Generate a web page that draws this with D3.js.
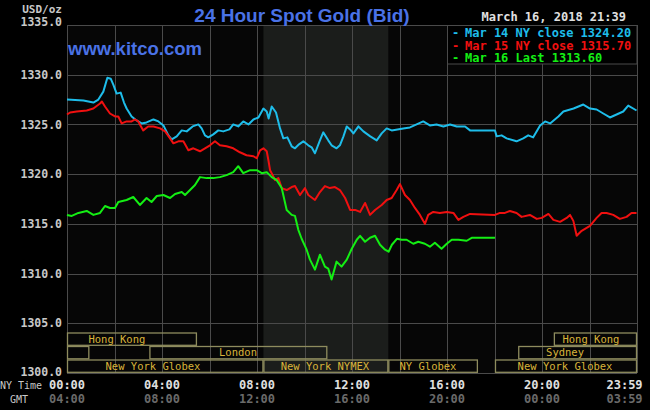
<!DOCTYPE html>
<html><head><meta charset="utf-8">
<script src="https://cdn.jsdelivr.net/npm/d3@7"></script>
<style>html,body{margin:0;padding:0;background:#000;overflow:hidden}svg{display:block}</style>
</head><body><svg id="c" width="650" height="410"></svg>
<script>
// ---------- DATA ----------
const titleText = "24 Hour Spot Gold (Bid)";
const siteText = "www.kitco.com";
const dateText = "March 16, 2018 21:39";
const unitText = "USD/oz";

const yTicks = [1300, 1305, 1310, 1315, 1320, 1325, 1330, 1335];
const xTickHours = [0, 4, 8, 12, 16, 20, 23.983];
const nyTimeLabels = ["00:00", "04:00", "08:00", "12:00", "16:00", "20:00", "23:59"];
const gmtLabels = ["04:00", "08:00", "12:00", "16:00", "20:00", "00:00", "03:59"];
const gridHours = [0, 2, 4, 6, 8, 10, 12, 14, 16, 18, 20, 22, 24];

const legendLabels = ["Mar 14 NY close 1324.20", "Mar 15 NY close 1315.70", "Mar 16 Last 1313.60"];

const mar14Times = [0,0.69,1.11,1.32,1.53,1.70,1.84,1.95,2.09,2.26,2.40,2.51,2.72,2.93,3.14,3.35,3.64,3.85,4.06,4.27,4.41,4.62,4.83,5.04,5.29,5.53,5.67,5.81,5.95,6.16,6.37,6.58,6.84,7.00,7.21,7.42,7.64,7.85,8.06,8.27,8.41,8.49,8.62,8.80,8.97,9.11,9.28,9.46,9.60,9.77,9.95,10.16,10.30,10.44,10.65,10.79,11.00,11.14,11.35,11.49,11.64,11.78,11.92,12.06,12.27,12.48,12.77,13.04,13.25,13.46,13.67,14.16,14.44,14.72,15.00,15.28,15.56,15.85,16.13,16.41,16.76,16.97,18.02,18.09,18.30,18.51,18.93,19.21,19.42,19.63,19.92,20.13,20.34,20.69,20.90,21.33,21.74,22.02,22.30,22.58,22.86,23.14,23.42,23.63,23.91,23.98];
const mar14Values = [1327.5,1327.4,1327.2,1327.5,1328.3,1329.7,1329.6,1329.0,1328.1,1328.2,1327.2,1326.6,1325.8,1325.4,1325.1,1325.2,1325.5,1325.3,1324.9,1323.9,1323.5,1323.8,1324.4,1324.3,1324.8,1325.0,1324.6,1323.9,1323.7,1324.0,1324.4,1324.3,1324.5,1325.0,1324.8,1325.3,1325.0,1325.5,1325.7,1326.6,1326.3,1325.6,1326.8,1326.2,1324.6,1323.6,1323.7,1322.8,1322.6,1323.0,1323.3,1322.9,1322.7,1322.1,1323.4,1324.2,1323.4,1322.9,1322.6,1322.9,1323.8,1324.8,1324.5,1324.1,1324.8,1324.3,1323.8,1323.4,1324.1,1324.6,1324.4,1324.6,1324.7,1325.0,1325.3,1324.9,1325.0,1324.8,1325.0,1324.8,1324.8,1324.4,1324.4,1323.8,1323.9,1323.6,1323.3,1323.6,1323.9,1323.7,1324.9,1325.3,1325.1,1325.8,1326.3,1326.6,1327.0,1326.6,1326.5,1326.1,1325.7,1326.0,1326.3,1326.9,1326.5,1326.4];

const mar15Times = [0,0.13,0.41,0.83,1.11,1.39,1.47,1.60,1.81,2.02,2.16,2.30,2.51,2.72,2.86,3.00,3.21,3.42,3.64,3.92,4.13,4.34,4.48,4.69,4.90,5.11,5.32,5.60,5.81,6.02,6.23,6.44,6.72,7.00,7.28,7.56,7.85,7.99,8.13,8.27,8.41,8.48,8.55,8.66,8.76,8.90,9.04,9.25,9.46,9.60,9.81,10.02,10.16,10.44,10.65,10.86,11.07,11.28,11.49,11.71,11.92,12.13,12.34,12.55,12.76,12.97,13.25,13.46,13.67,13.88,14.02,14.23,14.44,14.65,14.86,15.07,15.21,15.42,15.70,15.99,16.27,16.48,16.69,16.97,18.02,18.23,18.44,18.65,18.93,19.14,19.49,19.78,19.99,20.27,20.48,20.76,21.04,21.18,21.32,21.46,21.67,22.02,22.30,22.51,22.72,23.00,23.28,23.56,23.77,23.98];
const mar15Values = [1326.0,1326.2,1326.3,1326.4,1326.6,1327.1,1327.3,1326.8,1326.1,1325.8,1325.8,1325.1,1325.3,1325.3,1325.5,1325.3,1324.4,1324.8,1324.8,1324.6,1324.3,1323.6,1323.1,1323.3,1323.3,1322.4,1322.6,1322.3,1322.6,1322.9,1323.3,1322.9,1322.8,1322.6,1322.2,1321.9,1321.8,1321.6,1322.4,1322.6,1322.3,1321.4,1320.4,1319.9,1319.4,1319.6,1318.6,1318.4,1318.7,1318.8,1317.9,1318.6,1317.9,1317.4,1318.2,1318.8,1318.6,1318.7,1318.4,1317.6,1316.4,1316.4,1316.2,1317.1,1315.9,1316.4,1316.9,1317.4,1317.6,1318.4,1319.0,1317.9,1317.4,1316.6,1315.9,1315.0,1315.9,1316.2,1316.1,1316.2,1316.1,1315.4,1315.7,1316.0,1315.9,1316.1,1316.1,1316.3,1316.1,1315.7,1315.9,1315.5,1315.6,1316.0,1315.4,1315.2,1315.6,1315.9,1315.3,1313.8,1314.3,1314.8,1315.6,1316.1,1316.1,1315.9,1315.5,1315.7,1316.1,1316.1];

const mar16Times = [0,0.20,0.48,0.83,1.11,1.39,1.60,1.81,2.02,2.16,2.51,2.79,3.07,3.35,3.56,3.78,4.06,4.34,4.55,4.83,4.97,5.18,5.39,5.60,5.88,6.16,6.44,6.72,7.00,7.21,7.42,7.71,7.99,8.20,8.41,8.62,8.83,9.04,9.25,9.46,9.60,9.74,9.88,10.09,10.23,10.44,10.65,10.86,11.00,11.14,11.35,11.56,11.78,11.99,12.20,12.34,12.55,12.76,12.97,13.18,13.39,13.54,13.68,13.89,14.09,14.30,14.58,14.79,15.07,15.28,15.49,15.77,15.99,16.20,16.48,16.83,17.04,18.02];
const mar16Values = [1315.9,1315.8,1316.1,1316.3,1315.9,1316.1,1316.8,1316.6,1316.6,1317.2,1317.4,1317.7,1316.9,1317.6,1317.2,1317.8,1317.9,1317.6,1318.0,1318.2,1317.9,1318.4,1318.9,1319.7,1319.6,1319.6,1319.7,1319.9,1320.2,1320.8,1320.1,1320.4,1320.4,1320.1,1320.2,1319.7,1319.4,1318.6,1316.4,1315.9,1315.8,1314.4,1313.5,1312.4,1311.4,1310.4,1311.9,1310.7,1310.5,1309.4,1311.2,1310.7,1311.4,1312.5,1313.4,1313.8,1313.2,1313.6,1313.8,1312.9,1312.4,1312.2,1312.9,1313.5,1313.4,1313.4,1313.0,1313.2,1313.0,1312.7,1313.1,1312.5,1313.0,1313.4,1313.4,1313.3,1313.6,1313.6];

// market sessions: row, start hour, end hour, label, label hour
const sessionRows = [0, 0, 1, 1, 1, 2, 2, 2, 2];
const sessionStarts = [0, 20.5, 0, 3.47, 19, 0, 8.27, 13.53, 18.02];
const sessionEnds = [5.47, 24, 0.94, 10.96, 24, 8.27, 13.53, 17.3, 24];
const sessionLabels = ["Hong Kong", "Hong Kong", "", "London", "Sydney", "New York Globex", "New York NYMEX", "NY Globex", "New York Globex"];
const sessionLabelAt = [2.1, 22.06, 0, 7.2, 20.97, 3.62, 10.86, 15.2, 20.97];
const shadeStart = 8.27, shadeEnd = 13.53;

// ---------- DRAW ----------
const svg = d3.select("#c");
const L = 67, R = 637, T = 25, B = 373;
const x = d3.scaleLinear().domain([0, 24]).range([L, R]);
const y = d3.scaleLinear().domain([1300, 1335]).range([B, T]);
const mono = "'DejaVu Sans Mono', monospace";

svg.append("rect").attr("width", 650).attr("height", 410).attr("fill", "#000");
svg.append("rect").attr("x", L).attr("y", T).attr("width", R - L).attr("height", B - T).attr("fill", "#060606");
svg.append("rect").attr("x", x(shadeStart)).attr("y", T).attr("width", x(shadeEnd) - x(shadeStart)).attr("height", B - T).attr("fill", "#1b1d1b");

const grid = svg.append("g").attr("stroke", "#4a4a4a").attr("stroke-width", 1).attr("shape-rendering", "crispEdges");
grid.selectAll("line.v").data(gridHours).join("line").attr("class", "v")
  .attr("x1", d => Math.round(x(d)) + 0.5).attr("x2", d => Math.round(x(d)) + 0.5).attr("y1", T).attr("y2", B);
grid.selectAll("line.h").data(yTicks).join("line").attr("class", "h")
  .attr("x1", L).attr("x2", R).attr("y1", d => Math.round(y(d)) + 0.5).attr("y2", d => Math.round(y(d)) + 0.5);

// sessions
const rowTop = [333, 346.5, 360], rowH = 12.3;
const sess = svg.append("g");
sessionRows.forEach((r, i) => {
  sess.append("rect").attr("x", x(sessionStarts[i]) + 0.5).attr("y", rowTop[r])
    .attr("width", x(sessionEnds[i]) - x(sessionStarts[i]) - 1).attr("height", rowH)
    .attr("fill", "none").attr("stroke", "#8e8c5e").attr("stroke-width", 1.3);
  if (sessionLabels[i]) sess.append("text").attr("x", x(sessionLabelAt[i])).attr("y", rowTop[r] + rowH / 2 + 3.6)
    .attr("text-anchor", "middle").attr("fill", "#d9b43a").attr("font-family", mono).attr("font-size", "10.5px")
    .text(sessionLabels[i]);
});

// series
const line = d3.line().x(d => x(d[0])).y(d => y(d[1]));
const series = [
  {t: mar14Times, v: mar14Values, c: "#1ebdea"},
  {t: mar15Times, v: mar15Values, c: "#f01010"},
  {t: mar16Times, v: mar16Values, c: "#14ee14"}
];
series.forEach(s => {
  svg.append("path").datum(s.t.map((t, i) => [t, s.v[i]])).attr("d", line)
    .attr("fill", "none").attr("stroke", s.c).attr("stroke-width", 2).attr("stroke-linejoin", "round");
});

// y axis labels
const yAxis = d3.axisLeft(y).tickValues(yTicks).tickFormat(d3.format(".1f")).tickSize(0).tickPadding(5);
const ya = svg.append("g").attr("transform", `translate(${L},0)`).call(yAxis);
ya.select(".domain").remove();
ya.selectAll("text").attr("fill", "#c8c8c8").attr("font-family", mono).attr("font-weight", "bold").attr("font-size", "11.5px")
  .attr("dy", d => d === 1335 ? "0.05em" : (d === 1300 ? "0.2em" : "0.32em"))
  .attr("y", d => d === 1335 ? 0 : null);
svg.append("text").attr("x", 62).attr("y", 13).attr("text-anchor", "end").attr("fill", "#c8c8c8")
  .attr("font-family", mono).attr("font-weight", "bold").attr("font-size", "11px").text(unitText);

// x labels
const rowNY = 389, rowGMT = 403;
svg.append("text").attr("x", 0).attr("y", rowNY).attr("fill", "#c8c8c8").attr("font-family", mono).attr("font-size", "10px").text("NY Time");
svg.append("text").attr("x", 10).attr("y", rowGMT).attr("fill", "#c8c8c8").attr("font-family", mono).attr("font-size", "10px").text("GMT");
xTickHours.forEach((h, i) => {
  const last = i === xTickHours.length - 1;
  const px = last ? x(h) + 6 : x(h);
  svg.append("text").attr("x", px).attr("y", rowNY).attr("text-anchor", last ? "end" : "middle")
    .attr("fill", "#e0e0e0").attr("font-family", mono).attr("font-weight", "bold").attr("font-size", "12px").text(nyTimeLabels[i]);
  svg.append("text").attr("x", px).attr("y", rowGMT).attr("text-anchor", last ? "end" : "middle")
    .attr("fill", "#6a6a6a").attr("font-family", mono).attr("font-weight", "bold").attr("font-size", "12px").text(gmtLabels[i]);
});

// legend
svg.append("rect").attr("x", 447.5).attr("y", 25.5).attr("width", R - 447.5).attr("height", 38.5)
  .attr("fill", "#000").attr("stroke", "#4a4a4a").attr("stroke-width", 1);
legendLabels.forEach((lab, i) => {
  const ty = 37 + i * 12.5;
  svg.append("text").attr("x", 452).attr("y", ty).attr("fill", series[i].c).attr("font-family", mono)
    .attr("font-weight", "bold").attr("font-size", "12px").text("-");
  svg.append("text").attr("x", 465).attr("y", ty).attr("fill", series[i].c).attr("font-family", mono)
    .attr("font-weight", "bold").attr("font-size", "12px").text(lab);
});

// titles
svg.append("text").attr("x", 302).attr("y", 22).attr("text-anchor", "middle").attr("fill", "#4a72e6")
  .attr("font-family", "'Liberation Sans', Arial, sans-serif").attr("font-weight", "bold").attr("font-size", "19px").text(titleText);
svg.append("text").attr("x", 68).attr("y", 54.5).attr("fill", "#4a72e6")
  .attr("font-family", "'Liberation Sans', Arial, sans-serif").attr("font-weight", "bold").attr("font-size", "18.5px").text(siteText);
svg.append("text").attr("x", 626).attr("y", 21).attr("text-anchor", "end").attr("fill", "#e0e0e0")
  .attr("font-family", mono).attr("font-weight", "bold").attr("font-size", "12px").text(dateText);
</script>
</body></html>
